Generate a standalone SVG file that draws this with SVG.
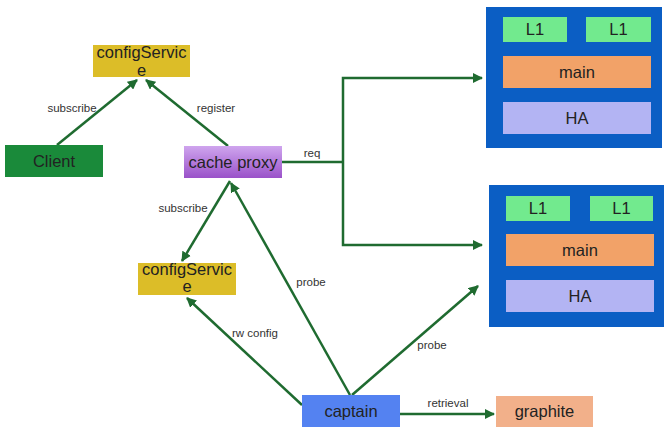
<svg xmlns="http://www.w3.org/2000/svg" width="666" height="433" viewBox="0 0 666 433">
<defs>
<linearGradient id="gp" x1="0" y1="0" x2="0" y2="1">
<stop offset="0" stop-color="#cfa5ee"/>
<stop offset="1" stop-color="#9a52c9"/>
</linearGradient>
<marker id="ah" viewBox="0 0 10 10" refX="9" refY="5" markerWidth="4" markerHeight="4" orient="auto" markerUnits="strokeWidth">
<path d="M0,0 L10,5 L0,10 z" fill="#1f6b30"/>
</marker>
<style>
.t{font-family:"Liberation Sans",Arial,sans-serif;font-size:16.5px;fill:#222;text-anchor:middle}
.s{font-family:"Liberation Sans",Arial,sans-serif;font-size:11.5px;fill:#333;text-anchor:middle}
.c{fill:none;stroke:#1f6b30;stroke-width:2.5}
.a{marker-end:url(#ah)}
.cs{fill:#dcbd28}
.l1{fill:#72ea8e}
.mn{fill:#f2a268}
.ha{fill:#b3b4f3}
.ob{fill:#0b5ec4}
</style>
</defs>
<rect width="666" height="433" fill="#ffffff"/>
<g id="connectors">
<line class="c a" x1="57" y1="145" x2="137" y2="80"/>
<line class="c a" x1="228" y1="146" x2="146" y2="80"/>
<line class="c a" x1="230" y1="181" x2="182" y2="261"/>
<line class="c a" x1="350" y1="395" x2="231" y2="183"/>
<line class="c a" x1="302" y1="405" x2="187" y2="298"/>
<line class="c a" x1="352" y1="395" x2="478" y2="286"/>
<line class="c a" x1="400" y1="414" x2="494" y2="414"/>
<polyline class="c" points="282,162 343,162"/>
<polyline class="c a" points="343,162 343,78 482,78"/>
<polyline class="c a" points="343,162 343,245 482,245"/>
<text class="s" x="72" y="112">subscribe</text>
<text class="s" x="216" y="112">register</text>
<text class="s" x="312" y="157">req</text>
<text class="s" x="183" y="212">subscribe</text>
<text class="s" x="311" y="286">probe</text>
<text class="s" x="255" y="337">rw config</text>
<text class="s" x="432" y="349">probe</text>
<text class="s" x="448" y="407">retrieval</text>
</g>
<g id="configService1">
<rect class="cs" x="93" y="45" width="97" height="32"/>
<text class="t" x="141.5" y="58">configServic</text>
<text class="t" x="141.5" y="76">e</text>
</g>
<g id="client">
<rect x="5" y="145" width="98" height="32" fill="#1a8a3a"/>
<text class="t" x="54" y="167">Client</text>
</g>
<g id="cacheProxy">
<rect x="184" y="146" width="98" height="32" fill="url(#gp)"/>
<text class="t" x="233" y="168">cache proxy</text>
</g>
<g id="configService2">
<rect class="cs" x="138" y="263" width="98" height="32"/>
<text class="t" x="187" y="275">configServic</text>
<text class="t" x="187" y="292">e</text>
</g>
<g id="captain">
<rect x="302" y="395" width="98" height="32" fill="#5482f1"/>
<text class="t" x="351" y="417">captain</text>
</g>
<g id="graphite">
<rect x="496" y="396" width="97" height="31" fill="#f2b08a"/>
<text class="t" x="544.5" y="417">graphite</text>
</g>
<g id="cluster1">
<rect class="ob" x="486" y="7" width="176" height="141"/>
<rect class="l1" x="503" y="17" width="64" height="25"/>
<text class="t" x="535" y="35">L1</text>
<rect class="l1" x="586" y="17" width="65" height="25"/>
<text class="t" x="618.5" y="35">L1</text>
<rect class="mn" x="503" y="56" width="148" height="32"/>
<text class="t" x="577" y="78">main</text>
<rect class="ha" x="503" y="102" width="148" height="32"/>
<text class="t" x="577" y="124">HA</text>
</g>
<g id="cluster2">
<rect class="ob" x="489" y="185" width="175" height="142"/>
<rect class="l1" x="506" y="196" width="64" height="25"/>
<text class="t" x="538" y="214">L1</text>
<rect class="l1" x="590" y="196" width="63" height="25"/>
<text class="t" x="621.5" y="214">L1</text>
<rect class="mn" x="506" y="234" width="148" height="32"/>
<text class="t" x="580" y="256">main</text>
<rect class="ha" x="506" y="280" width="148" height="32"/>
<text class="t" x="580" y="302">HA</text>
</g>
</svg>
